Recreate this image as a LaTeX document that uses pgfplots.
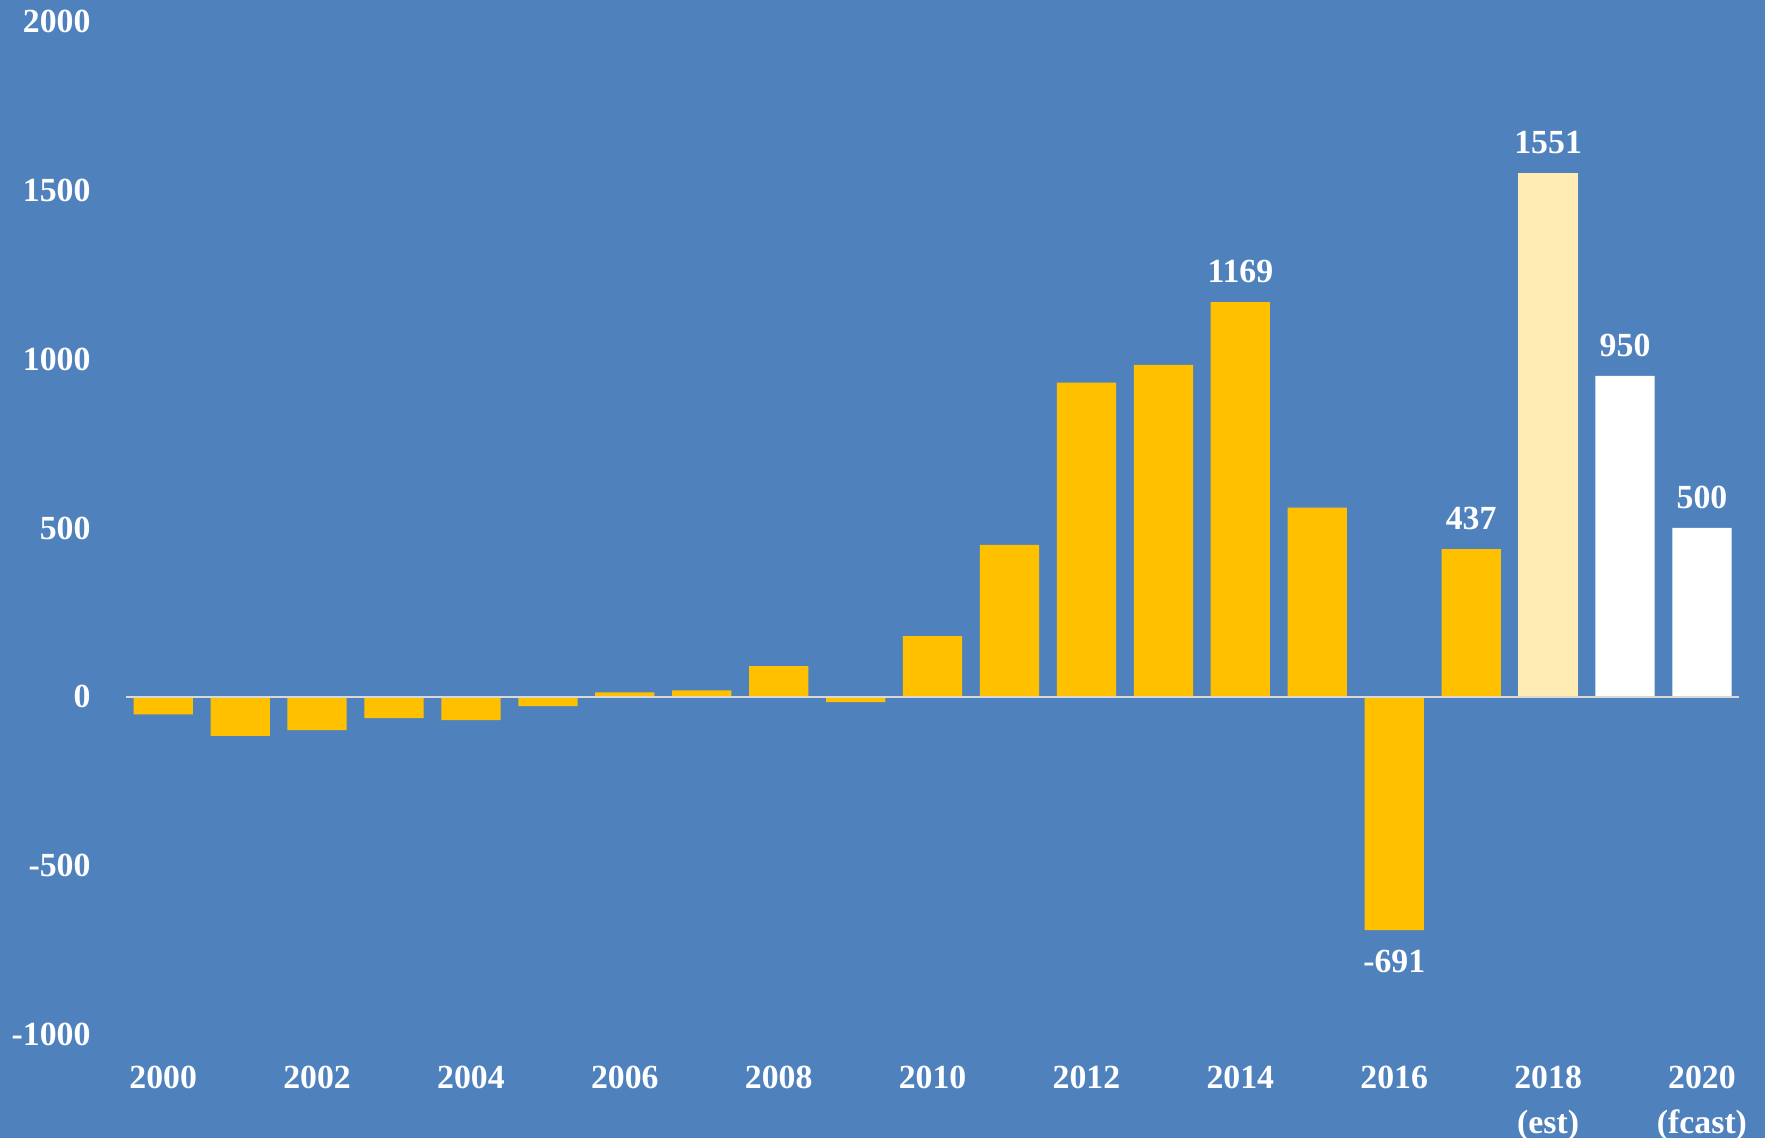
\documentclass[border=0pt]{standalone}
\usepackage{fontspec}
\setmainfont{Liberation Serif}
\usepackage{pgfplots}
\pgfplotsset{compat=1.18}
\definecolor{bgblue}{RGB}{79,129,189}
\definecolor{baryellow}{RGB}{255,192,0}
\definecolor{lightyellow}{RGB}{255,236,181}
\definecolor{zerolinec}{RGB}{217,217,217}
\begin{document}
\begin{tikzpicture}
\fill[bgblue, use as bounding box] (-43.5pt,-117.6pt) rectangle (426.9pt,185.7pt);
\begin{axis}[
 anchor=origin, at={(0pt,0pt)},
 x=20.505pt, y=0.09pt,
 xmin=-0.48, xmax=20.48, ymin=-1000, ymax=2000,
 axis line style={draw=none},
 major tick length=0pt,
 ytick={-1000,-500,0,500,1000,1500,2000},
 yticklabels={-1000,-500,0,500,1000,1500,2000},
 xtick={0,2,4,6,8,10,12,14,16,18,20},
 xticklabels={2000,2002,2004,2006,2008,2010,2012,2014,2016,{2018\\(est)},{2020\\(fcast)}},
 ticklabel style={font=\fontsize{9}{12}\selectfont\bfseries, text=white},
 xticklabel style={align=center, yshift=-5pt},
 yticklabel style={xshift=-6pt},
 ybar, bar width=0.77, bar shift=0pt,
 clip=false,
 /pgf/number format/1000 sep={},
 /pgf/number format/assume math mode=true,
 every node near coord/.append style={font=\fontsize{9}{12}\selectfont\bfseries, text=white, inner sep=5pt},
]
\addplot[fill=baryellow, draw=none] coordinates {
 (0,-52) (1,-116) (2,-99) (3,-63) (4,-69) (5,-28) (6,13) (7,19) (8,91) (9,-16)
 (10,180) (11,450) (12,930) (13,983) (15,560)};
\addplot[fill=baryellow, draw=none, nodes near coords] coordinates {
 (14,1169) (16,-691) (17,437)};
\addplot[fill=lightyellow, draw=none, nodes near coords] coordinates {
 (18,1551)};
\addplot[fill=white, draw=none, nodes near coords] coordinates {
 (19,950) (20,500)};
\draw[zerolinec, line width=0.6pt] (axis cs:-0.48,0) -- (axis cs:20.48,0);
\end{axis}
\end{tikzpicture}
\end{document}
